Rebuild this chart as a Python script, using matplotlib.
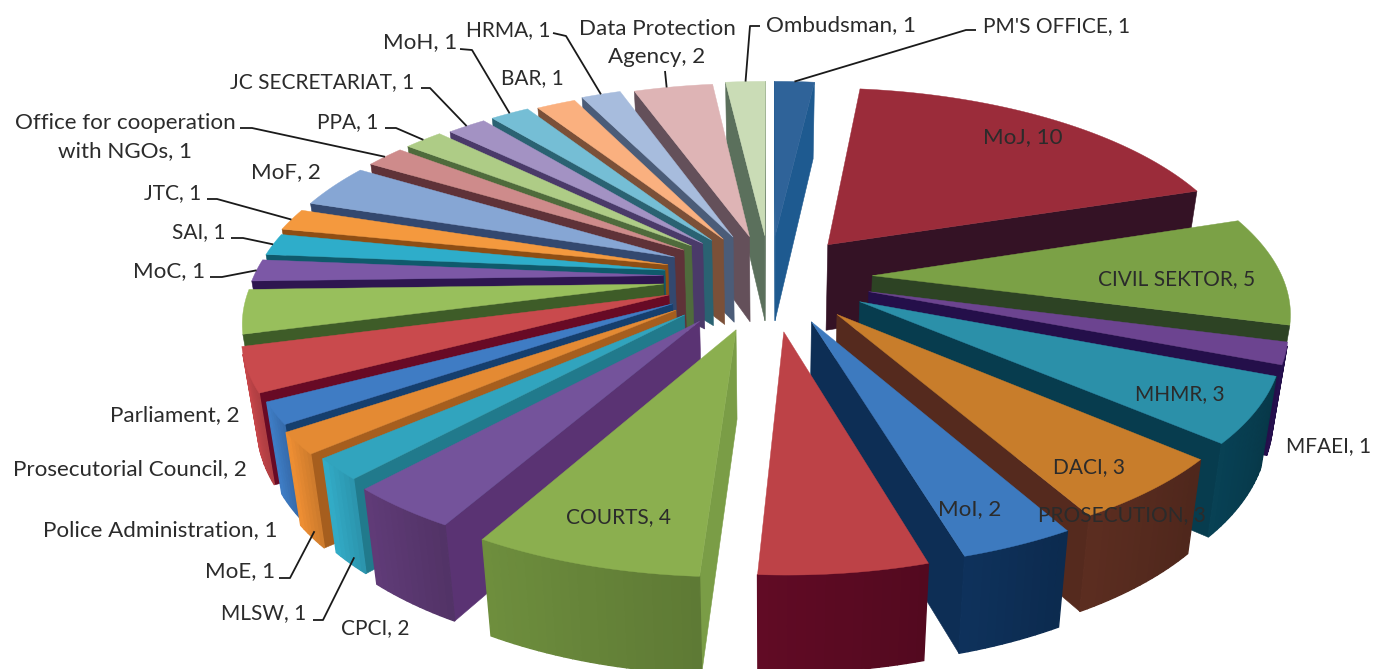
import numpy as np
import matplotlib
matplotlib.use("Agg")
import matplotlib.pyplot as plt
from matplotlib.colors import to_rgb
from matplotlib.patches import Polygon

plt.rcParams['font.family'] = ['Lato', 'DejaVu Sans']

names = ["PM'S OFFICE", "MoJ", "CIVIL SEKTOR", "MFAEI", "MHMR", "DACI", "MoI", "PROSECUTION",
         "COURTS", "CPCI", "MLSW", "MoE", "Police Administration", "Prosecutorial Council",
         "Parliament", "MoC", "SAI", "JTC", "MoF", "Office for cooperation\nwith NGOs", "PPA",
         "JC SECRETARIAT", "MoH", "BAR", "HRMA", "Data Protection\nAgency", "Ombudsman"]
values = [1, 10, 5, 1, 3, 3, 2, 3, 4, 2, 1, 1, 1, 2, 2, 1, 1, 1, 2, 1, 1, 1, 1, 1, 1, 2, 1]
explode = [.22, .22, .24, .24, .24, .24, .24, .27, .27, .27, .27, .27, .26, .25, .25, .25, .25, .25, .25,
           .25, .25, .24, .24, .23, .23, .22, .22]
radius = [.99, .99, .96, .95, .95, .95, .97, .945, .96, .95, .94, .95, .95, .965, .96, .96, .96, .97, .97,
          .97, .97, .97, .97, .97, .98, .98, .99]
top_colors = ["#2F6399", "#9B2C3A", "#7BA146", "#6C4490", "#2B90A9", "#C87D2B", "#3D7ABF", "#BD4247",
              "#8BAF4F", "#74539B", "#31A4BE", "#E48A33", "#3F7CC4", "#C94A4D", "#98BF5C", "#7C58A6",
              "#2EADCA", "#F4993E", "#86A6D4", "#CE8B8B", "#AECC86", "#A392C3", "#75BED5", "#FAB07F",
              "#A7BCDD", "#DEB4B5", "#CADCB6"]
side_colors = ["#1E5A90", "#341225", "#2D4324", "#240F4A", "#073C4E", "#552A1E", "#0D2E55", "#5A0A22",
               "#7A9D46", "#5A3373", "#217A8C", "#A65E1E", "#153F6E", "#680A25", "#3E5C28", "#2E1650",
               "#0F5A6C", "#8E4E14", "#33486F", "#5F3238", "#4F6B3C", "#4A3A69", "#2A6272", "#7B5038",
               "#4B5C78", "#64505A", "#5B705C"]
rim_colors = ["#1E5A90", "#341225", "#2D4324", "#240F4A", "#073C4E", "#552A1E", "#0D2E55", "#5A0A22",
              "#668439", "#59376F", "#2FA0BA", "#DE8530", "#3A74B8", "#BD4347", "#B8424A", "#2E1650",
              "#0F5A6C", "#8E4E14", "#33486F", "#5F3238", "#4F6B3C", "#4A3A69", "#2A6272", "#7B5038",
              "#4B5C78", "#64505A", "#5B705C"]
label_xy = [(1057, 26), (1023, 137), (1177, 279), (1329, 446), (1180, 394), (1089, 467), (970, 509),
            (1122, 515), (618, 517), (375, 628), (264, 613), (240, 571), (160, 530), (130, 469),
            (175, 415), (169, 271), (199, 232), (173, 193), (286, 172), (125, 137), (348, 122),
            (322, 82), (420, 42), (532, 78), (508, 30), (657, 43), (841, 25)]
leaders = {"PM'S OFFICE": ((976, 30), (966, 30), .45, 0),
           "Ombudsman": ((760, 26), (750, 26), .45, 0),
           "Data Protection\nAgency": ((665, 71), (665, 71), .45, 0),
           "HRMA": ((553, 33), (566, 36), .45, 0),
           "MoH": ((460, 49), (472, 50), .45, 0),
           "JC SECRETARIAT": ((421, 88), (430, 88), .45, 0),
           "PPA": ((385, 128), (396, 128), .45, 0),
           "Office for cooperation\nwith NGOs": ((240, 128), (252, 128), .45, 0),
           "JTC": ((207, 199), (217, 199), .45, 0),
           "SAI": ((231, 238), (243, 238), .45, 0),
           "MoC": ((210, 277), (222, 277), .55, 0),
           "MoE": ((279, 578), (290, 578), .3, .9),
           "MLSW": ((313, 620), (323, 620), .3, .9)}

W, H = 1374, 669
CX, CY = 770.0, 277.0
A, B, K = 427.0, 195.0, 0.17
D, KD, LEAN = 87.0, 0.10, 0.03


def project(X, Y, z=0.0):
    s = 1.0 / (1.0 - K * Y)
    return (CX + A * X * s * (1 - LEAN * z), CY + B * Y * s + z * D * (1 + KD * Y))


fig = plt.figure(figsize=(W / 100, H / 100), dpi=100)
ax = fig.add_axes([0, 0, 1, 1])
ax.set_xlim(0, W)
ax.set_ylim(H, 0)
ax.axis("off")

vals = np.array(values, float)
edges = np.concatenate([[0], np.cumsum(vals)]) / vals.sum() * 2 * np.pi
wedges = []
for i in range(len(vals)):
    t0, t1 = edges[i], edges[i + 1]
    mid = (t0 + t1) / 2
    ax0, ay0 = explode[i] * np.sin(mid), -explode[i] * np.cos(mid)
    th = np.linspace(t0, t1, max(int(values[i]) * 6, 6) + 1)
    ox, oy = ax0 + radius[i] * np.sin(th), ay0 - radius[i] * np.cos(th)
    wedges.append((i, ax0, ay0, ox, oy, np.mean(oy) * .6 + ay0 * .4))


def area(p):
    p = np.array(p)
    return 0.5 * np.sum(p[:, 0] * np.roll(p[:, 1], -1) - np.roll(p[:, 0], -1) * p[:, 1])


def quad(a, b):
    return [project(*a, 0), project(*b, 0), project(*b, 1), project(*a, 1)]


z = 1
for i, ax0, ay0, ox, oy, _ in sorted(wedges, key=lambda w: w[5]):
    a = (ax0, ay0)
    for q in (quad((ox[0], oy[0]), a), quad(a, (ox[-1], oy[-1]))):
        if area(q) > 0:
            ax.add_patch(Polygon(q, closed=True, fc=side_colors[i], ec=side_colors[i], lw=.4, zorder=z))
            z += 1
    vis = [j for j in range(len(ox) - 1)
           if area(quad((ox[j + 1], oy[j + 1]), (ox[j], oy[j]))) > 0]
    base = np.array(to_rgb(rim_colors[i]))
    for j in vis:
        # rim darkens towards its right-hand end
        f = 0.92 + 0.16 * (j + .5) / (len(ox) - 1)
        col = tuple(np.clip(base * f, 0, 1))
        ax.add_patch(Polygon(quad((ox[j + 1], oy[j + 1]), (ox[j], oy[j])), closed=True, fc=col, ec=col,
                             lw=1.0, zorder=z))
        z += 1
    top = [project(ax0, ay0)] + [project(x, y) for x, y in zip(ox, oy)]
    ax.add_patch(Polygon(top, closed=True, fc=top_colors[i], ec=top_colors[i], lw=.3, zorder=z))
    z += 1

tz = z + 10
for i, name in enumerate(names):
    x, y = label_xy[i]
    size = 15.0 if name.isupper() else 16.1
    ax.text(x, y, f"{name}, {values[i]}", ha="center", va="center", fontsize=size, color="#2b2b2b",
            linespacing=1.55, zorder=tz)
    if name in leaders:
        st, el, f, d = leaders[name]
        w = wedges[i]
        n = len(w[3]) - 1
        k = int(round(f * n))
        tip = project(w[3][k], w[4][k], d)
        ax.plot([st[0], el[0], tip[0]], [st[1], el[1], tip[1]], color="#1a1a1a", lw=1.3, zorder=tz,
                solid_capstyle="butt")

fig.savefig("out.png", dpi=100)
